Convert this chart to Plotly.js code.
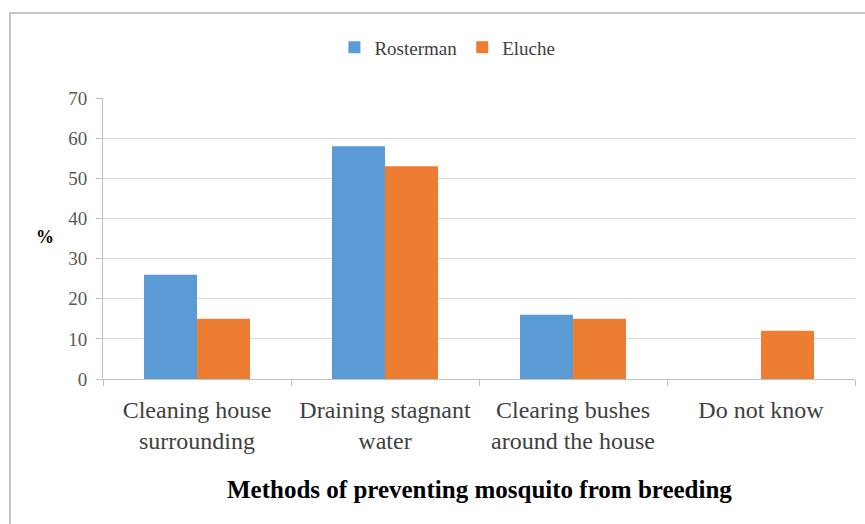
<!DOCTYPE html>
<html>
<head>
<meta charset="utf-8">
<script src="https://cdn.plot.ly/plotly-3.0.1.min.js"></script>
<style>
html,body{margin:0;padding:0;background:#fff;}
#wrap{position:relative;width:865px;height:524px;}
#chart{width:865px;height:524px;}
#frame{position:absolute;left:9px;top:12px;right:0;bottom:0;border-left:2px solid #c4c4c4;border-top:2px solid #c4c4c4;pointer-events:none;}
</style>
</head>
<body>
<div id="wrap"><div id="chart"></div><div id="frame"></div></div>
<script>
var categories = ["Cleaning house<br>surrounding", "Draining stagnant<br>water", "Clearing bushes<br>around the house", "Do not know"];
var rosterman = [26, 58, 16, null];
var eluche = [15, 53, 15, 12];
var seriesNames = ["Rosterman", "Eluche"];
var yTicks = [0, 10, 20, 30, 40, 50, 60, 70];
var xTitle = "Methods of preventing mosquito from breeding";
var yTitle = "%";

var font = "Times New Roman, Liberation Serif, serif";
var data = [
  {type: "bar", name: seriesNames[0], x: categories, y: rosterman, marker: {color: "#5B9BD5"}},
  {type: "bar", name: seriesNames[1], x: categories, y: eluche, marker: {color: "#ED7D31"}}
];
var layout = {
  width: 865, height: 524,
  margin: {l: 103, r: 10, t: 98, b: 145},
  paper_bgcolor: "#fff", plot_bgcolor: "#fff",
  font: {family: font, color: "#404040", size: 16},
  barmode: "group", bargap: 0.436, bargroupgap: 0,
  showlegend: true,
  legend: {orientation: "h", x: 0.458, xanchor: "center", y: 1.18, yanchor: "middle",
           font: {family: font, size: 19, color: "#404040"}, itemwidth: 30, traceorder: "normal"},
  xaxis: {
    type: "category",
    tickfont: {family: font, size: 24, color: "#404040"},
    ticks: "outside", tickson: "boundaries", ticklen: 6, tickcolor: "#bfbfbf",
    ticklabelstandoff: 9,
    showline: true, linecolor: "#bfbfbf", linewidth: 1,
    automargin: false
  },
  yaxis: {
    range: [0, 70], tickvals: yTicks, ticktext: yTicks.map(String),
    tickfont: {family: font, size: 19, color: "#595959"},
    ticks: "outside", ticklen: 6, tickcolor: "#bfbfbf",
    ticklabelstandoff: 5,
    showline: true, linecolor: "#bfbfbf", linewidth: 1,
    gridcolor: "#d9d9d9", gridwidth: 1, zeroline: false,
    automargin: false
  },
  annotations: [
    {text: "<b>" + xTitle + "</b>", xref: "paper", yref: "paper", x: 0.5, y: -0.395, xanchor: "center", yanchor: "middle",
     showarrow: false, font: {family: font, size: 25, color: "#000"}},
    {text: "<b>" + yTitle + "</b>", xref: "paper", yref: "paper", x: -0.077, y: 0.504, xanchor: "center", yanchor: "middle",
     showarrow: false, font: {family: font, size: 18, color: "#000"}}
  ]
};
Plotly.newPlot("chart", data, layout, {displayModeBar: false, staticPlot: true});
</script>
</body>
</html>
